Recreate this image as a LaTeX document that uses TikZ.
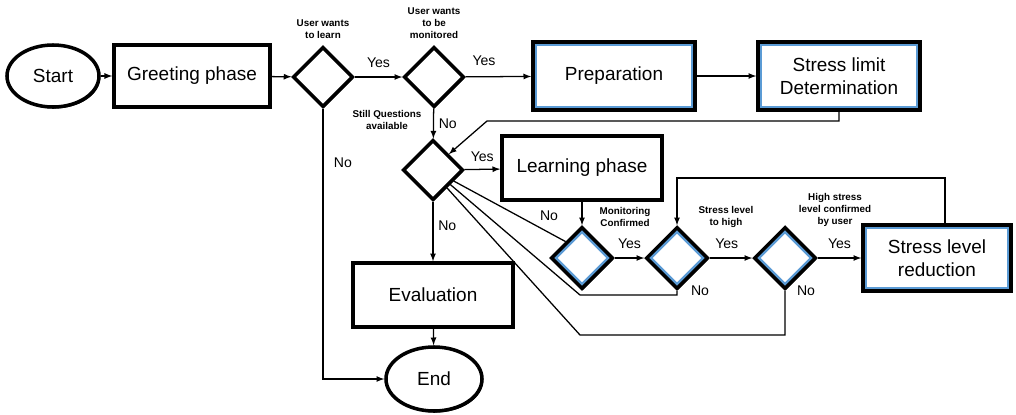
\documentclass[tikz,border=0pt]{standalone}
\usepackage{fontspec}
\setmainfont{Liberation Sans}
\usetikzlibrary{shapes.geometric, positioning, shadows}
\definecolor{rimblue}{RGB}{91,155,213}

\begin{document}
\begin{tikzpicture}[
        x=0.025cm, y=-0.025cm, % one unit = one pixel of the sketch
        font=\fontsize{13.5}{16}\selectfont,
        flow/.style = {draw, line width=0.9pt, -latex}, % forward arrows
        link/.style = {draw, line width=0.9pt}, % return lines, no tips
        heavy/.style = {draw, line width=2.5pt, fill=white,
            drop shadow={shadow xshift=0.8pt, shadow yshift=-1.1pt, fill=black, opacity=1}},
        terminal/.style = {heavy, ellipse, minimum width=2.3cm, minimum height=1.55cm},
        block/.style = {heavy, rectangle, align=center, minimum width=4cm, minimum height=1.6cm},
        decision/.style = {heavy, diamond, minimum width=1.5cm, minimum height=1.5cm, inner sep=0pt},
        rimbox/.style = {path picture={\draw[rimblue, line width=6pt]
            (path picture bounding box.south west) rectangle (path picture bounding box.north east);}},
        rimdiamond/.style = {path picture={\draw[rimblue, line width=6pt]
            (path picture bounding box.west) -- (path picture bounding box.north) --
            (path picture bounding box.east) -- (path picture bounding box.south) -- cycle;}},
        note/.style = {align=center, inner sep=1pt, font=\bfseries\fontsize{7}{8.5}\selectfont}, % question texts
        answer/.style = {font=\fontsize{10}{12}\selectfont}, % Yes / No
    ]
    \useasboundingbox (0,0) rectangle (1016,414);

    % upper row
    \node[terminal] (start) at (53,76) {Start};
    \node[block, minimum width=3.9cm, minimum height=1.55cm] (greet) at (192,76) {Greeting phase};
    \node[decision] (learnq) at (323,77) {};
    \node[decision] (monq) at (434,77) {};
    \node[block, rimbox, minimum width=4.05cm, minimum height=1.7cm] (prep) at (614,76) {Preparation};
    \node[block, rimbox, minimum width=4.05cm, minimum height=1.7cm] (limit) at (839,76) {Stress limit\\Determination};

    % middle
    \node[decision] (askq) at (433,170) {};
    \node[block] (learn) at (582,168) {Learning phase};
    \node[block] (eval) at (433,295) {Evaluation};
    \node[terminal, minimum width=2.4cm, minimum height=1.6cm] (stop) at (434,379) {End};

    % monitoring row
    \node[decision, rimdiamond, minimum width=1.55cm, minimum height=1.55cm] (monok) at (582,258) {};
    \node[decision, rimdiamond, minimum width=1.55cm, minimum height=1.55cm] (highq) at (677,258) {};
    \node[decision, rimdiamond, minimum width=1.55cm, minimum height=1.55cm] (userok) at (785,258) {};
    \node[block, rimbox, minimum width=3.7cm, minimum height=1.65cm] (reduce) at (937,258) {Stress level\\reduction};

    % question texts
    \node[note, above=0.12cm of learnq] (learnqtxt) {User wants\\to learn};
    \node[note, above=0.12cm of monq] (monqtxt) {User wants\\to be\\monitored};
    \node[note] (askqtxt) at (387,120) {Still Questions\\available};
    \node[note] (monoktxt) at (625,217) {Monitoring\\Confirmed};
    \node[note] (highqtxt) at (726,217) {Stress level\\to high};
    \node[note] (useroktxt) at (835,210) {High stress\\level confirmed\\by user};

    \coordinate (turn) at (487,121);
    \coordinate (up) at (677,178);
    \coordinate (back1) at (580,295);
    \coordinate (back2) at (580,335);

    \draw[flow] (start) -- (greet);
    \draw[flow] (greet) -- (learnq);
    \draw[flow] (learnq) -- node[answer, above=3pt] {Yes} (monq);
    \draw[flow] (monq) -- node[answer, pos=0.28, above=4pt] {Yes} (prep);
    \draw[flow] (prep) -- (limit);
    \draw[flow] (limit.south) |- (turn) -- (askq.north east);
    \draw[flow] (monq) -- node[answer, right] {No} (askq);
    \draw[flow] (askq) -- node[answer, above=2pt] {Yes} (learn);
    \draw[flow] (askq) -- node[answer, pos=0.4, right] {No} (eval);
    \draw[flow] (eval) -- (stop);
    \draw[flow] (learnq.south) |- node[answer, pos=0.1, right=4pt] {No} (stop.west);
    \draw[flow] (learn) -- (monok);
    \draw[flow] (monok) -- node[answer, above=3pt] {Yes} (highq);
    \draw[flow] (highq) -- node[answer, pos=0.4, above=3pt] {Yes} (userok);
    \draw[flow] (userok) -- node[answer, above=3pt] {Yes} (reduce);
    \draw[flow] ([xshift=0.2cm]reduce.north) |- (up) -- (highq);

    % No branches back to the question loop
    \draw[link] (monok.north west) -- (askq.-28);
    \draw[link] (highq.south) |- (back1) -- (askq.-40);
    \draw[link] (userok.south) |- (back2) -- (askq.-52);
    \node[answer] at (549,216) {No};
    \node[answer] at (700,291) {No};
    \node[answer] at (806,291) {No};
\end{tikzpicture}
\end{document}
